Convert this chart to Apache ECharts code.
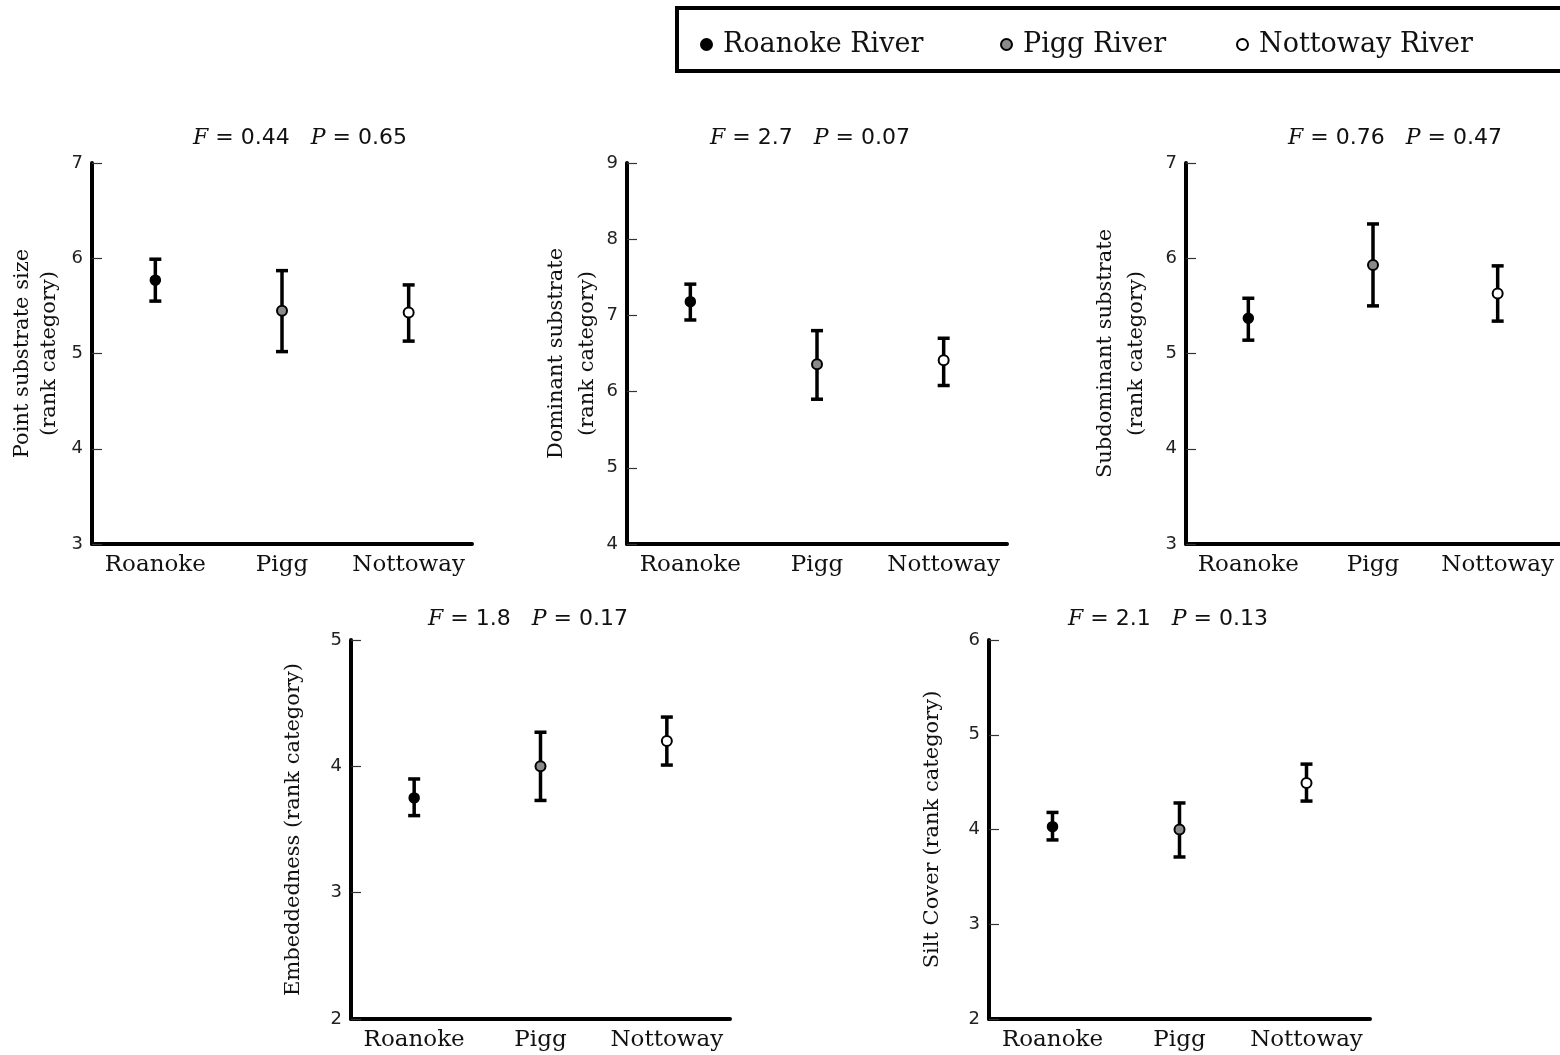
<!DOCTYPE html>
<html>
<head>
<meta charset="utf-8">
<script src="https://cdn.jsdelivr.net/npm/echarts@6/dist/echarts.min.js"></script>
<style>html,body{margin:0;padding:0;background:#fff;}#c{width:1560px;height:1055px;}</style>
</head>
<body>
<div id="c"></div>
<script>
const rivers = ['Roanoke River', 'Pigg River', 'Nottoway River'];
const categories = ['Roanoke', 'Pigg', 'Nottoway'];

const pointMean = [5.77, 5.45, 5.43];
const pointLow = [5.55, 5.02, 5.13];
const pointHigh = [5.99, 5.87, 5.72];

const domMean = [7.18, 6.36, 6.41];
const domLow = [6.94, 5.90, 6.08];
const domHigh = [7.41, 6.80, 6.70];

const subMean = [5.37, 5.93, 5.63];
const subLow = [5.14, 5.50, 5.34];
const subHigh = [5.58, 6.36, 5.92];

const embMean = [3.75, 4.00, 4.20];
const embLow = [3.61, 3.73, 4.01];
const embHigh = [3.90, 4.27, 4.39];

const siltMean = [4.03, 4.00, 4.49];
const siltLow = [3.89, 3.71, 4.30];
const siltHigh = [4.18, 4.28, 4.69];

const statF = ['0.44', '2.7', '0.76', '1.8', '2.1'];
const statP = ['0.65', '0.07', '0.47', '0.17', '0.13'];

const yNames = ['Point substrate size\n(rank category)', 'Dominant substrate\n(rank category)',
  'Subdominant substrate\n(rank category)', 'Embeddedness (rank category)', 'Silt Cover (rank category)'];
const yMin = [3, 4, 3, 2, 2];
const yMax = [7, 9, 7, 5, 6];

const panels = [
  {mean: pointMean, low: pointLow, high: pointHigh},
  {mean: domMean, low: domLow, high: domHigh},
  {mean: subMean, low: subLow, high: subHigh},
  {mean: embMean, low: embLow, high: embHigh},
  {mean: siltMean, low: siltLow, high: siltHigh}
];

// layout
const grids = [
  {left: 92, top: 163, width: 380, height: 381},
  {left: 627, top: 163, width: 380, height: 381},
  {left: 1186, top: 163, width: 378, height: 381},
  {left: 351, top: 640, width: 379, height: 379},
  {left: 989, top: 640, width: 381, height: 379}
];
const nameGaps = [29, 22, 34, 43, 42];
const nameLineHeights = [27, 31, 31, 28, 28];
const titlePos = [[300, 138], [810, 138], [1395, 138], [528, 619], [1168, 619]];

const markerStyles = [
  {color: '#000', borderColor: '#000', borderWidth: 1.5},
  {color: '#8a8a8a', borderColor: '#000', borderWidth: 2},
  {color: '#fff', borderColor: '#000', borderWidth: 2}
];

const serif = 'DejaVu Serif';
const sans = 'DejaVu Sans';

const xAxes = [], yAxes = [], series = [], graphics = [];

grids.forEach((g, k) => {
  xAxes.push({
    type: 'category', gridIndex: k, data: categories, boundaryGap: true,
    axisLine: {lineStyle: {color: '#000', width: 4}},
    axisTick: {show: false},
    axisLabel: {interval: 0, fontFamily: serif, fontSize: 23, color: '#111', margin: 10}
  });
  yAxes.push({
    type: 'value', gridIndex: k, min: yMin[k], max: yMax[k], interval: 1,
    name: yNames[k], nameLocation: 'middle', nameGap: nameGaps[k],
    nameTextStyle: {fontFamily: serif, fontSize: 21, color: '#111', lineHeight: nameLineHeights[k]},
    axisLine: {show: true, lineStyle: {color: '#000', width: 4}},
    axisTick: {show: true, inside: true, length: 10, lineStyle: {color: '#333', width: 1.2}},
    axisLabel: {fontFamily: sans, fontSize: 18, color: '#222', margin: 9},
    splitLine: {show: false}
  });
  const p = panels[k];
  series.push({
    type: 'custom', xAxisIndex: k, yAxisIndex: k, z: 2,
    data: categories.map((c, i) => [i, p.low[i], p.high[i]]),
    renderItem: function (params, api) {
      const lo = api.coord([api.value(0), api.value(1)]);
      const hi = api.coord([api.value(0), api.value(2)]);
      const hw = 6;
      const st = {stroke: '#000', lineWidth: 3.5};
      return {type: 'group', children: [
        {type: 'line', shape: {x1: lo[0], y1: lo[1], x2: hi[0], y2: hi[1]}, style: st},
        {type: 'line', shape: {x1: hi[0] - hw, y1: hi[1], x2: hi[0] + hw, y2: hi[1]}, style: st},
        {type: 'line', shape: {x1: lo[0] - hw, y1: lo[1], x2: lo[0] + hw, y2: lo[1]}, style: st}
      ]};
    }
  });
  rivers.forEach((r, i) => {
    series.push({
      type: 'scatter', name: r, xAxisIndex: k, yAxisIndex: k, z: 5,
      symbol: 'circle', symbolSize: 10,
      itemStyle: Object.assign({opacity: 1}, markerStyles[i]),
      data: [[i, p.mean[i]]]
    });
  });
  graphics.push({
    type: 'text', x: titlePos[k][0], y: titlePos[k][1],
    style: {
      text: '{i|F} = ' + statF[k] + '   {i|P} = ' + statP[k],
      fontFamily: sans, fontSize: 22, fill: '#111', align: 'center', verticalAlign: 'middle',
      rich: {i: {fontFamily: serif, fontStyle: 'italic', fontSize: 22, fill: '#111'}}
    }
  });
});

graphics.push({
  type: 'rect', shape: {x: 677, y: 8, width: 900, height: 63},
  style: {fill: 'none', stroke: '#000', lineWidth: 4}, z: 0
});

const legendLefts = [695, 995, 1231];
const legends = rivers.map((r, i) => ({
  data: [r], left: legendLefts[i], top: 26,
  icon: 'circle', itemWidth: 11, itemHeight: 11,
  textStyle: {fontFamily: serif, fontSize: 27, color: '#111', padding: [0, 0, 0, 6]},
  selectedMode: false
}));

const chart = echarts.init(document.getElementById('c'), null, {renderer: 'canvas'});
chart.setOption({
  animation: false,
  backgroundColor: '#fff',
  legend: legends,
  grid: grids,
  xAxis: xAxes,
  yAxis: yAxes,
  series: series,
  graphic: graphics
});
</script>
</body>
</html>
